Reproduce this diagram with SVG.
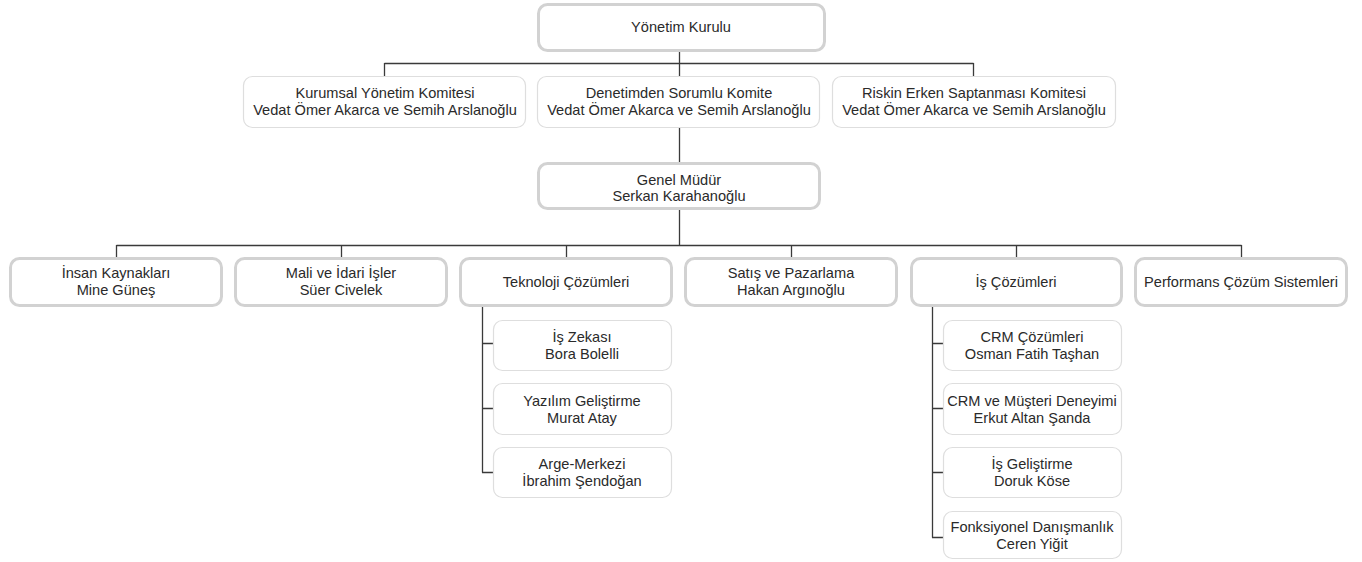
<svg xmlns="http://www.w3.org/2000/svg" width="1362" height="562" viewBox="0 0 1362 562">
<style>
.bg{fill:#ffffff}
.thick{fill:#ffffff;stroke:#d2d2d2;stroke-width:3}
.thin{fill:#ffffff;stroke:#dedede;stroke-width:1.2}
.t{font-family:"Liberation Sans",Arial,sans-serif;font-size:14.6px;fill:#2a2a2a;text-anchor:middle}
.c{fill:none;stroke:#3a3a3a;stroke-width:1.3}
</style>
<rect class="bg" x="0" y="0" width="1362" height="562"/>
<g id="connectors">
<path class="c" d="M679.5 50 V163 M384.5 63.5 H973.5 M384.5 63 V76 M973.5 63 V76"/>
<path class="c" d="M679.5 208 V245.5 M116.5 245.5 H1241.5 M116.5 245 V258 M341.5 245 V258 M566.5 245 V258 M791.5 245 V258 M1016.5 245 V258 M1241.5 245 V258"/>
<path class="c" d="M482.5 306 V472.5 M482 343.5 H493 M482 408.5 H493 M482 472.5 H493"/>
<path class="c" d="M932.5 306 V537.5 M932 343.5 H943 M932 408.5 H943 M932 472.5 H943 M932 537.5 H943"/>
</g>
<g id="yonetim-kurulu"><rect class="thick" x="538.5" y="4.5" width="286" height="46" rx="9"/><text class="t" x="681" y="32">Yönetim Kurulu</text></g>
<g id="kurumsal"><rect class="thin" x="243.5" y="76.5" width="282" height="51" rx="9"/><text class="t" x="385" y="98">Kurumsal Yönetim Komitesi</text><text class="t" x="385" y="115">Vedat Ömer Akarca ve Semih Arslanoğlu</text></g>
<g id="denetim"><rect class="thin" x="537.5" y="76.5" width="282" height="51" rx="9"/><text class="t" x="679" y="98">Denetimden Sorumlu Komite</text><text class="t" x="679" y="115">Vedat Ömer Akarca ve Semih Arslanoğlu</text></g>
<g id="riskin"><rect class="thin" x="832.5" y="76.5" width="283" height="51" rx="9"/><text class="t" x="974" y="98">Riskin Erken Saptanması Komitesi</text><text class="t" x="974" y="115">Vedat Ömer Akarca ve Semih Arslanoğlu</text></g>
<g id="genel-mudur"><rect class="thick" x="538.5" y="163.5" width="281" height="45" rx="9"/><text class="t" x="679" y="185">Genel Müdür</text><text class="t" x="679" y="201">Serkan Karahanoğlu</text></g>
<g id="insan"><rect class="thick" x="10.5" y="258.5" width="211" height="47" rx="9"/><text class="t" x="116" y="278">İnsan Kaynakları</text><text class="t" x="116" y="295">Mine Güneş</text></g>
<g id="mali"><rect class="thick" x="235.5" y="258.5" width="211" height="47" rx="9"/><text class="t" x="341" y="278">Mali ve İdari İşler</text><text class="t" x="341" y="295">Süer Civelek</text></g>
<g id="teknoloji"><rect class="thick" x="460.5" y="258.5" width="211" height="47" rx="9"/><text class="t" x="566" y="287">Teknoloji Çözümleri</text></g>
<g id="satis"><rect class="thick" x="685.5" y="258.5" width="211" height="47" rx="9"/><text class="t" x="791" y="278">Satış ve Pazarlama</text><text class="t" x="791" y="295">Hakan Argınoğlu</text></g>
<g id="is-cozumleri"><rect class="thick" x="911.5" y="258.5" width="210" height="47" rx="9"/><text class="t" x="1016" y="287">İş Çözümleri</text></g>
<g id="performans"><rect class="thick" x="1135.5" y="258.5" width="211" height="47" rx="9"/><text class="t" x="1241" y="287">Performans Çözüm Sistemleri</text></g>
<g id="is-zekasi"><rect class="thin" x="493.5" y="320.5" width="178" height="50" rx="9"/><text class="t" x="582" y="342">İş Zekası</text><text class="t" x="582" y="359">Bora Bolelli</text></g>
<g id="yazilim"><rect class="thin" x="493.5" y="383.5" width="178" height="51" rx="9"/><text class="t" x="582" y="406">Yazılım Geliştirme</text><text class="t" x="582" y="423">Murat Atay</text></g>
<g id="arge"><rect class="thin" x="493.5" y="447.5" width="178" height="50" rx="9"/><text class="t" x="582" y="469">Arge-Merkezi</text><text class="t" x="582" y="486">İbrahim Şendoğan</text></g>
<g id="crm"><rect class="thin" x="943.5" y="320.5" width="178" height="50" rx="9"/><text class="t" x="1032" y="342">CRM Çözümleri</text><text class="t" x="1032" y="359">Osman Fatih Taşhan</text></g>
<g id="crm-musteri"><rect class="thin" x="943.5" y="383.5" width="178" height="51" rx="9"/><text class="t" x="1032" y="406">CRM ve Müşteri Deneyimi</text><text class="t" x="1032" y="423">Erkut Altan Şanda</text></g>
<g id="is-gelistirme"><rect class="thin" x="943.5" y="447.5" width="178" height="50" rx="9"/><text class="t" x="1032" y="469">İş Geliştirme</text><text class="t" x="1032" y="486">Doruk Köse</text></g>
<g id="fonksiyonel"><rect class="thin" x="943.5" y="511.5" width="178" height="47" rx="9"/><text class="t" x="1032" y="532">Fonksiyonel Danışmanlık</text><text class="t" x="1032" y="549">Ceren Yiğit</text></g>
</svg>
